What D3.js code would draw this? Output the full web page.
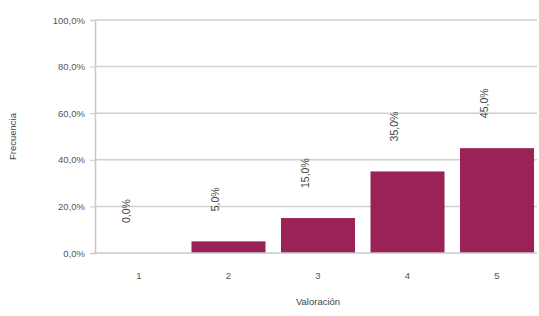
<!DOCTYPE html>
<html><head><meta charset="utf-8">
<script src="https://cdn.jsdelivr.net/npm/d3@7"></script>
<style>body{margin:0;background:#fff}svg{display:block}text{font-family:"Liberation Sans",Arial,sans-serif}</style>
</head><body>
<svg id="c" width="539" height="316"></svg>
<script>
const categories = ["1","2","3","4","5"];
const values = [0, 5, 15, 35, 45];
const labels = ["0,0%","5,0%","15,0%","35,0%","45,0%"];
const yTicks = [0,20,40,60,80,100];
const yTickLabels = ["0,0%","20,0%","40,0%","60,0%","80,0%","100,0%"];

const svg = d3.select("#c");
const m = {l:95, r:2, t:20, b:63};
const W = 539, H = 316;
const x = d3.scaleBand().domain(categories).range([m.l, W+2]).paddingInner(0.173).paddingOuter(0.078);
const y = d3.scaleLinear().domain([0,100]).range([H-m.b, m.t]);

// gridlines
svg.append("g").selectAll("line").data(yTicks.filter(d=>d>0)).join("line")
  .attr("x1", m.l).attr("x2", W-m.r).attr("y1", d=>y(d)).attr("y2", d=>y(d))
  .attr("stroke","#d0d0d0").attr("stroke-width",1.5);

// y axis
const ya = svg.append("g").attr("transform",`translate(${m.l},0)`)
  .call(d3.axisLeft(y).tickValues(yTicks).tickFormat((d,i)=>yTickLabels[i]).tickSize(5).tickPadding(5));
ya.select(".domain").attr("stroke","#c8c8c8").attr("stroke-width",1.5);
ya.selectAll(".tick line").attr("stroke","#c8c8c8");
ya.selectAll("text").attr("font-size",9.5).attr("fill","#555");

// bars
svg.append("g").selectAll("rect").data(values).join("rect")
  .attr("x",(d,i)=>x(categories[i])).attr("width",x.bandwidth())
  .attr("y",d=>y(d)).attr("height",d=>y(0)-y(d))
  .attr("fill","#9b2257");

// x axis
const xa = svg.append("g").attr("transform",`translate(0,${H-m.b})`)
  .call(d3.axisBottom(x).tickSize(0).tickPadding(19));
xa.select(".domain").attr("stroke","#c8c8c8").attr("stroke-width",1.5).attr("d",`M${m.l},0H${W-m.r}`);
xa.selectAll("text").attr("font-size",9.5).attr("fill","#555");

// value labels
svg.append("g").selectAll("text").data(values).join("text")
  .attr("transform",(d,i)=>`translate(${x(categories[i])+x.bandwidth()/2-13},${y(d)-30}) rotate(-90)`)
  .attr("text-anchor","start").attr("dy","0.35em")
  .attr("font-size",10.5).attr("fill","#444").text((d,i)=>labels[i]);

// axis titles
svg.append("text").attr("transform",`translate(16,${(m.t+H-m.b)/2}) rotate(-90)`)
  .attr("text-anchor","middle").attr("font-size",9.5).attr("fill","#444").text("Frecuencia");
svg.append("text").attr("x",318).attr("y",305)
  .attr("text-anchor","middle").attr("font-size",9.5).attr("fill","#444").text("Valoración");
</script>
</body></html>
